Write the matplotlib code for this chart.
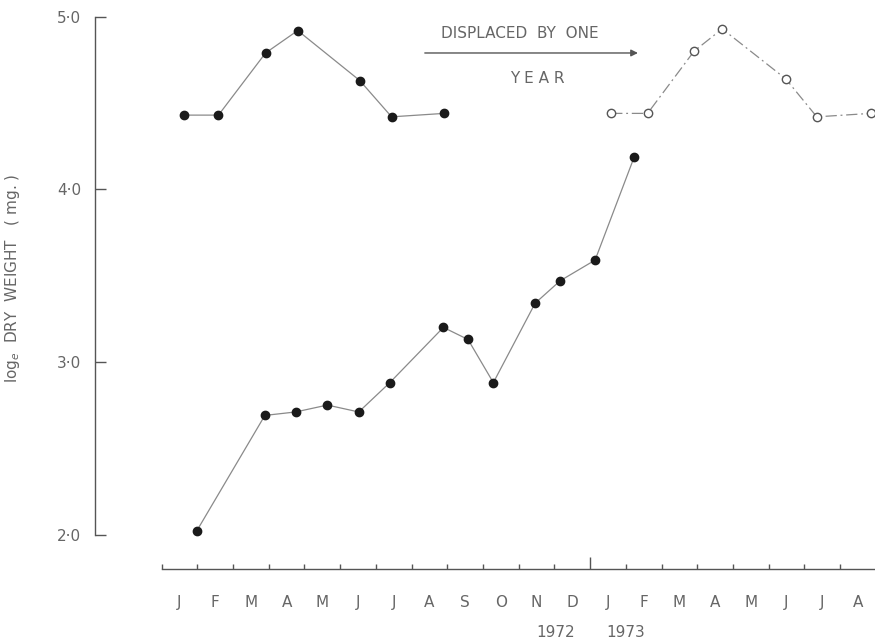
import matplotlib
matplotlib.use("Agg")
import matplotlib.pyplot as plt
from matplotlib.ticker import FixedLocator

# Sampling dates as months from 1 Jan 1972 and log_e dry weight (mg)
lower_months = [0.98, 2.89, 3.75, 4.64, 5.52, 6.39, 7.89, 8.58, 9.29, 10.46, 11.16, 12.14, 13.24]
lower_weight = [2.02, 2.69, 2.71, 2.75, 2.71, 2.88, 3.20, 3.13, 2.88, 3.34, 3.47, 3.59, 4.19]

upper_months = [0.62, 1.59, 2.91, 3.81, 5.55, 6.44, 7.91]
upper_weight = [4.43, 4.43, 4.79, 4.92, 4.63, 4.42, 4.44]

# Same upper curve, displaced by one year
displaced_months = [12.59, 13.61, 14.91, 15.70, 17.48, 18.35, 19.86]
displaced_weight = [4.44, 4.44, 4.80, 4.93, 4.64, 4.42, 4.44]

month_labels = ["J", "F", "M", "A", "M", "J", "J", "A", "S", "O", "N", "D",
                "J", "F", "M", "A", "M", "J", "J", "A"]
y_ticks = [2.0, 3.0, 4.0, 5.0]
y_tick_labels = ["2·0", "3·0", "4·0", "5·0"]

TEXT = "#666666"
LINE = "#8a8a8a"
AXIS = "#555555"


def setup_axes():
    fig = plt.figure(figsize=(8.75, 6.43), dpi=100)
    ax = fig.add_axes([95 / 875, 74.5 / 643, 780 / 875, 568.5 / 643])
    ax.set_xlim(-1.868, 19.98)
    ax.set_ylim(1.803, 5.097)

    for side in ["top", "right"]:
        ax.spines[side].set_visible(False)
    ax.spines["left"].set_bounds(2.0, 5.0)
    ax.spines["bottom"].set_bounds(0, 19.98)
    for side in ["left", "bottom"]:
        ax.spines[side].set_color(AXIS)
        ax.spines[side].set_linewidth(1.0)

    # y axis
    ax.set_yticks(y_ticks)
    ax.set_yticklabels(y_tick_labels)
    ax.tick_params(axis="y", direction="in", length=8, width=1.0, color=AXIS,
                   pad=10, labelsize=11, labelcolor=TEXT)

    # x axis: ticks at month boundaries, letters centred in each month
    ax.xaxis.set_major_locator(FixedLocator(list(range(0, 20))))
    ax.xaxis.set_major_formatter(plt.NullFormatter())
    ax.xaxis.set_minor_locator(FixedLocator([m + 0.5 for m in range(20)]))
    ax.set_xticklabels(month_labels, minor=True)
    ax.tick_params(axis="x", which="major", direction="in", length=3.5, width=1.0, color=AXIS)
    ax.tick_params(axis="x", which="minor", length=0, pad=19, labelsize=11, labelcolor=TEXT)

    # the year boundary gets a taller tick
    ax.xaxis.get_major_ticks()[12].tick1line.set_markersize(9)

    ax.set_ylabel("log$_e$  DRY  WEIGHT   ( mg. )", fontsize=11, color=TEXT)
    ax.yaxis.set_label_coords(-0.094, 0.511)
    return fig, ax


def draw_series(ax):
    ax.plot(lower_months, lower_weight, color=LINE, lw=0.9, zorder=2)
    ax.plot(lower_months, lower_weight, "o", color="#1a1a1a", ms=6, zorder=3)

    ax.plot(upper_months, upper_weight, color=LINE, lw=0.9, zorder=2)
    ax.plot(upper_months, upper_weight, "o", color="#1a1a1a", ms=6, zorder=3)

    ax.plot(displaced_months, displaced_weight, color=LINE, lw=0.9,
            linestyle=(0, (9, 3, 1.5, 3)), zorder=2)
    ax.plot(displaced_months, displaced_weight, "o", mfc="white", mec="#555555",
            mew=1.0, ms=6, zorder=3, clip_on=False)


def annotate(ax):
    ax.text(10.04, 4.905, "DISPLACED  BY  ONE", ha="center", va="center",
            fontsize=11, color=TEXT)
    ax.text(10.51, 4.645, "Y E A R", ha="center", va="center",
            fontsize=11, color=TEXT)
    ax.annotate("", xy=(13.34, 4.79), xytext=(7.37, 4.79),
                arrowprops=dict(arrowstyle="-|>", color="#555555", lw=1.0,
                                mutation_scale=10, shrinkA=0, shrinkB=0))

    # year labels either side of the 1972/1973 boundary
    ax.text(11.57, 1.43, "1972", ha="right", va="center", fontsize=11,
            color=TEXT, clip_on=False)
    ax.text(12.44, 1.43, "1973", ha="left", va="center", fontsize=11,
            color=TEXT, clip_on=False)


def main():
    fig, ax = setup_axes()
    draw_series(ax)
    annotate(ax)
    fig.savefig("out.png", dpi=100)


if __name__ == "__main__":
    main()
